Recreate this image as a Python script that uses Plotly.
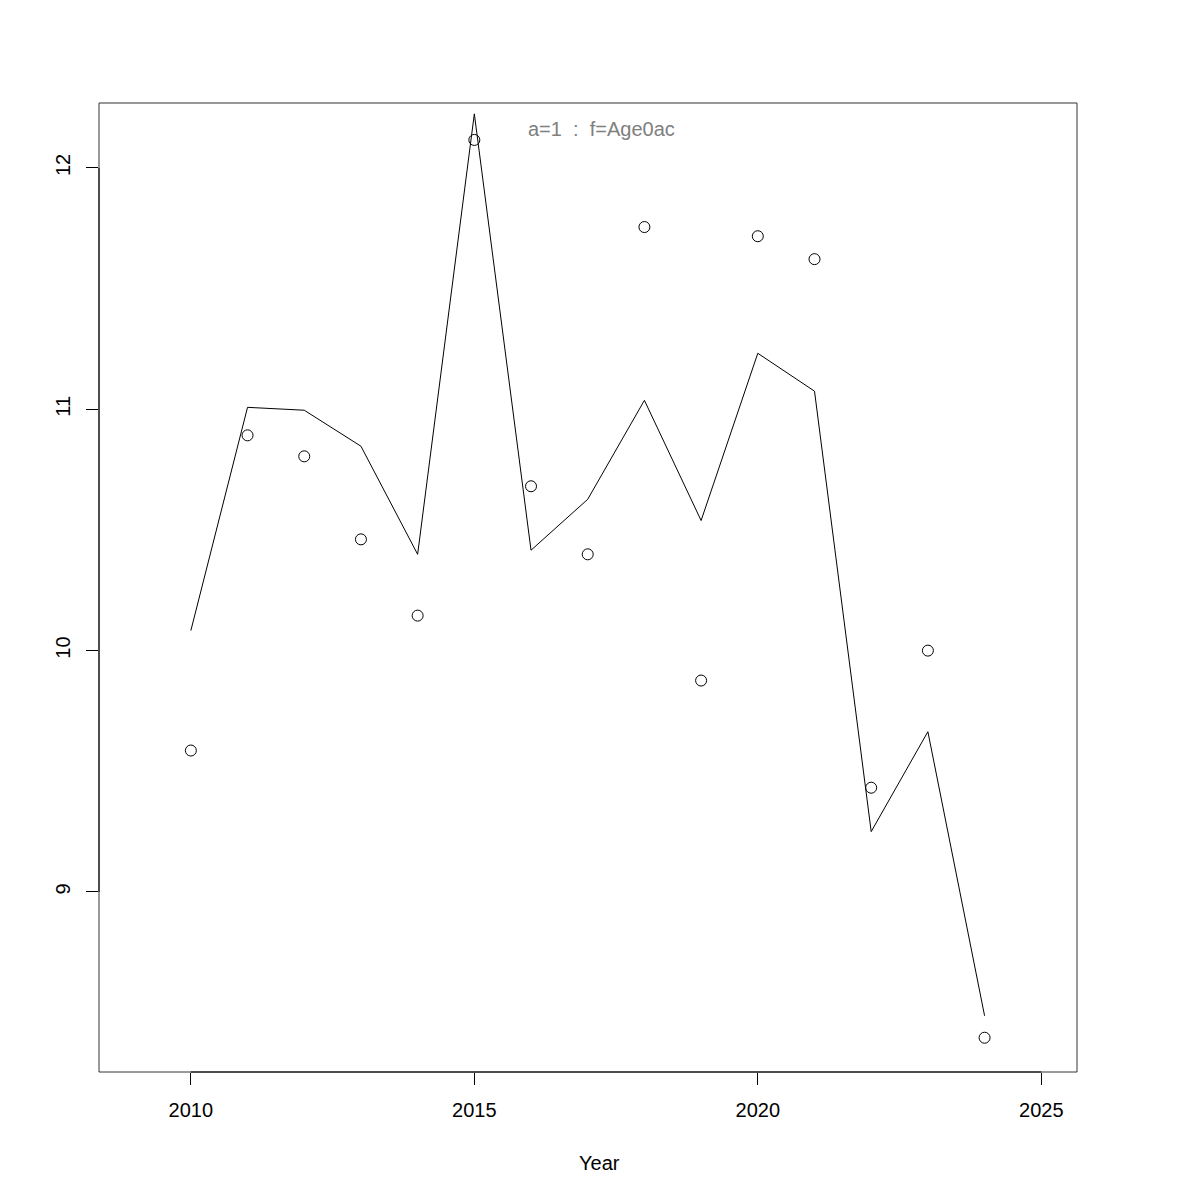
import plotly.graph_objects as go

years = list(range(2010, 2025))
observed = [9.586, 10.892, 10.805, 10.461, 10.145, 12.116, 10.681, 10.399,
            11.755, 9.876, 11.717, 11.622, 9.432, 10.0, 8.396]
fitted = [10.083, 11.008, 10.996, 10.847, 10.399, 12.224, 10.416, 10.627,
          11.037, 10.539, 11.232, 11.075, 9.25, 9.664, 8.487]
x_ticks = [2010, 2015, 2020, 2025]
y_ticks = [9, 10, 11, 12]
label_text = "a=1  :  f=Age0ac"
x_title = "Year"

FONT = "Liberation Sans, Arial, sans-serif"

fig = go.Figure()
fig.add_trace(go.Scatter(x=years, y=fitted, mode="lines",
                         line=dict(color="black", width=1), showlegend=False))
fig.add_trace(go.Scatter(x=years, y=observed, mode="markers",
                         marker=dict(symbol="circle-open", size=11,
                                     color="black", line=dict(width=1)),
                         showlegend=False))

xr = [2008.38, 2025.63]
yr = [8.254, 12.269]

fig.update_layout(
    width=1200, height=1200,
    margin=dict(l=91, r=131, t=95, b=136),
    plot_bgcolor="white", paper_bgcolor="white",
    font=dict(family=FONT, size=20, color="black"),
    xaxis=dict(range=xr, tickvals=x_ticks, ticks="outside", ticklen=12,
               tickcolor="black", tickwidth=1, showgrid=False, zeroline=False,
               showline=False, ticklabelstandoff=8),
    yaxis=dict(range=yr, tickvals=y_ticks, ticks="outside", ticklen=12,
               tickcolor="black", tickwidth=1, showgrid=False, zeroline=False,
               showline=False, tickangle=-90, ticklabelstandoff=8),
    shapes=[
        dict(type="rect", xref="paper", yref="paper", x0=0, x1=1, y0=0, y1=1,
             line=dict(color="#333333", width=1)),
        dict(type="line", xref="x", yref="paper", x0=x_ticks[0], x1=x_ticks[-1],
             y0=0, y1=0, line=dict(color="black", width=1)),
        dict(type="line", xref="paper", yref="y", x0=0, x1=0,
             y0=y_ticks[0], y1=y_ticks[-1], line=dict(color="black", width=1)),
    ],
    annotations=[
        dict(text=label_text, xref="paper", yref="paper", x=0.514, y=0.973,
             showarrow=False, xanchor="center", yanchor="middle",
             font=dict(family=FONT, size=20, color="#808080")),
        dict(text=x_title, xref="paper", yref="paper", x=0.512, y=-0.0939,
             showarrow=False, xanchor="center", yanchor="middle",
             font=dict(family=FONT, size=20, color="black")),
    ],
)

fig.write_html("out.html")
